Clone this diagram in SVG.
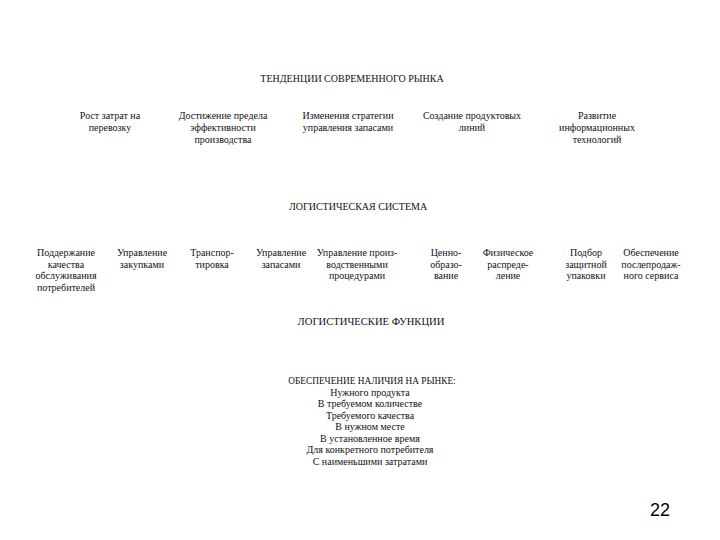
<svg xmlns="http://www.w3.org/2000/svg" width="720" height="540" viewBox="0 0 720 540">
<style>
text{font-family:"Liberation Serif","Times New Roman",serif;font-size:10px;fill:#111;text-anchor:middle}
.pg{font-family:"Liberation Sans",Arial,sans-serif;font-size:18px;fill:#000}
.h3{font-size:10.6px}
.h4{font-size:9.3px}
</style>
<rect width="720" height="540" fill="#fff"/>
<g id="title1"><text x="352" y="82">ТЕНДЕНЦИИ СОВРЕМЕННОГО РЫНКА</text></g>
<g id="t1"><text x="110" y="119">Рост затрат на</text><text x="110" y="131">перевозку</text></g>
<g id="t2"><text x="223" y="119">Достижение предела</text><text x="223" y="131">эффективности</text><text x="223" y="143">производства</text></g>
<g id="t3"><text x="348" y="119">Изменения стратегии</text><text x="348" y="131">управления запасами</text></g>
<g id="t4"><text x="472" y="119">Создание продуктовых</text><text x="472" y="131">линий</text></g>
<g id="t5"><text x="597" y="119">Развитие</text><text x="597" y="131">информационных</text><text x="597" y="143">технологий</text></g>
<g id="title2"><text x="358" y="210">ЛОГИСТИЧЕСКАЯ СИСТЕМА</text></g>
<g id="s1"><text x="66" y="256">Поддержание</text><text x="66" y="267.5">качества</text><text x="66" y="279">обслуживания</text><text x="66" y="290.5">потребителей</text></g>
<g id="s2"><text x="142" y="256">Управление</text><text x="142" y="267.5">закупками</text></g>
<g id="s3"><text x="212" y="256">Транспор-</text><text x="212" y="267.5">тировка</text></g>
<g id="s4"><text x="281" y="256">Управление</text><text x="281" y="267.5">запасами</text></g>
<g id="s5"><text x="357" y="256">Управление произ-</text><text x="357" y="267.5">водственными</text><text x="357" y="279">процедурами</text></g>
<g id="s6"><text x="446" y="256">Ценно-</text><text x="446" y="267.5">образо-</text><text x="446" y="279">вание</text></g>
<g id="s7"><text x="508" y="256">Физическое</text><text x="508" y="267.5">распреде-</text><text x="508" y="279">ление</text></g>
<g id="s8"><text x="586" y="256">Подбор</text><text x="586" y="267.5">защитной</text><text x="586" y="279">упаковки</text></g>
<g id="s9"><text x="651" y="256">Обеспечение</text><text x="651" y="267.5">послепродаж-</text><text x="651" y="279">ного сервиса</text></g>
<g id="title3"><text class="h3" x="371" y="325">ЛОГИСТИЧЕСКИЕ ФУНКЦИИ</text></g>
<g id="avail">
<text class="h4" x="372" y="384">ОБЕСПЕЧЕНИЕ НАЛИЧИЯ НА РЫНКЕ:</text>
<text x="370" y="395.5">Нужного продукта</text>
<text x="370" y="407">В требуемом количестве</text>
<text x="370" y="418.5">Требуемого качества</text>
<text x="370" y="430">В нужном месте</text>
<text x="370" y="441.5">В установленное время</text>
<text x="370" y="453">Для конкретного потребителя</text>
<text x="370" y="464.5">С наименьшими затратами</text>
</g>
<g id="connectors"></g>
<g id="page"><text class="pg" x="660" y="516">22</text></g>
</svg>
